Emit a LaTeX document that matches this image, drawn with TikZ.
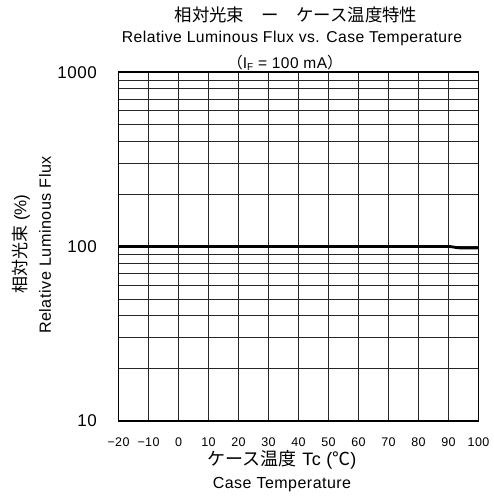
\documentclass[tikz,border=0pt]{standalone}
\usepackage{fontspec}
\setmainfont{Liberation Sans}
\newfontfamily\latsp{Liberation Sans}[LetterSpace=3]
\newfontfamily\jp{Noto Sans CJK JP}
\tikzset{
  gridline/.style={draw=black!85, line width=0.9pt},
  frameline/.style={draw=black, line width=1.9pt},
  curveline/.style={draw=black, line width=2.8pt},
  ylab/.style={anchor=east, inner sep=0pt, font=\latsp\fontsize{17}{20}\selectfont},
  xlab/.style={inner sep=0pt, font=\latsp\fontsize{12.5}{15}\selectfont},
  txt/.style={inner sep=0pt},
}
\begin{document}
\begin{tikzpicture}[x=1pt,y=1pt]
\useasboundingbox (0,0) rectangle (493,500);
\def\XA{118.5}
\def\XB{478.5}
\def\YA{79}
\def\YB{428}
\def\DEC{174.5}
% vertical grid
\foreach \i in {1,...,11} {
  \draw[gridline] ({\XA+30*\i},\YA) -- ({\XA+30*\i},\YB);
}
% horizontal grid
\foreach \k in {2,...,9} {
  \draw[gridline] (\XA,{\YA+\DEC*log10(\k)}) -- (\XB,{\YA+\DEC*log10(\k)});
  \draw[gridline] (\XA,{\YA+\DEC+\DEC*log10(\k)}) -- (\XB,{\YA+\DEC+\DEC*log10(\k)});
}
\draw[gridline] (\XA,{\YA+\DEC}) -- (\XB,{\YA+\DEC});
% frame
\draw[frameline] (\XA,\YA) rectangle (\XB,\YB);
% curve
\coordinate (c0) at (\XA,{\YA+\DEC});
\coordinate (c1) at (448.5,{\YA+\DEC});
\coordinate (c2) at (460,{\YA+\DEC-1.4});
\coordinate (c3) at (\XB,{\YA+\DEC-1.6});
\draw[curveline] (c0) -- (c1) .. controls (453,{\YA+\DEC}) and (455,{\YA+\DEC-1.3}) .. (c2) -- (c3);
% y tick labels
\node[ylab] (y1000) at (97,427) {1000};
\node[ylab] (y100) at (97,{\YA+\DEC}) {100};
\node[ylab] (y10) at (97,\YA) {10};
% x tick labels
\foreach \v [count=\i from 0] in {−20,−10,0,10,20,30,40,50,60,70,80,90,100} {
  \node[xlab] (x\i) at ({\XA+30*\i},58) {\v};
}
% titles
\node[txt] (t1) at (296,485) {\jp\fontsize{17.4}{20}\selectfont 相対光束　ー　ケース温度特性};
\node[txt] (t2) at (292,462) {\latsp\fontsize{15.7}{18}\selectfont Relative Luminous Flux vs. Case Temperature};
\node[txt] (t3) at (285,437) {\latsp\fontsize{15.5}{16}\selectfont {\jp （}I\raisebox{-0.3ex}{\fontsize{10}{10}\selectfont F} = 100 mA{\jp ）}};
% axis titles
\node[txt] (xt1) at (282,40) {\latsp\fontsize{18}{20}\selectfont{\jp ケース温度} Tc ({\jp ℃})};
\node[txt] (xt2) at (282,15) {\latsp\fontsize{16}{18}\selectfont Case Temperature};
\node[txt, rotate=90] (yt1) at (21,256) {\fontsize{17}{20}\selectfont{\jp 相対光束} (\%)};
\node[txt, rotate=90] (yt2) at (45,255) {\latsp\fontsize{16.2}{18}\selectfont Relative Luminous Flux};
\end{tikzpicture}
\end{document}
